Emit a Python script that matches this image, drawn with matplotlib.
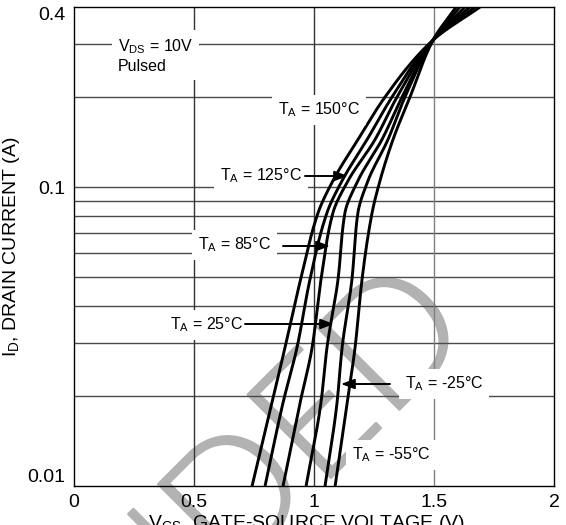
import numpy as np
import matplotlib
matplotlib.use("Agg")
import matplotlib.pyplot as plt
from matplotlib import font_manager
import matplotlib.patheffects as pe

plt.rcParams['font.family'] = ['Liberation Sans', 'DejaVu Sans']
plt.rcParams['mathtext.default'] = 'regular'

# ---- data ----
currents = [0.01, 0.019, 0.029, 0.049, 0.082, 0.105, 0.144, 0.2, 0.31, 0.4]
temps = ["150", "125", "85", "25", "-25", "-55"]
vgs_150 = [0.742, 0.825, 0.879, 0.944, 1.017, 1.079, 1.183, 1.296, 1.496, 1.692]
vgs_125 = [0.796, 0.871, 0.929, 0.983, 1.054, 1.117, 1.221, 1.325, 1.496, 1.671]
vgs_85 = [0.871, 0.942, 0.992, 1.029, 1.079, 1.142, 1.254, 1.346, 1.496, 1.650]
vgs_25 = [0.967, 1.029, 1.054, 1.100, 1.129, 1.183, 1.283, 1.367, 1.496, 1.629]
vgs_m25 = [1.046, 1.096, 1.117, 1.158, 1.183, 1.225, 1.308, 1.379, 1.496, 1.608]
vgs_m55 = [1.088, 1.138, 1.171, 1.200, 1.242, 1.275, 1.329, 1.400, 1.496, 1.592]
series = [vgs_150, vgs_125, vgs_85, vgs_25, vgs_m25, vgs_m55]

x_ticks = [0, 0.5, 1, 1.5, 2]
x_ticklabels = ["0", "0.5", "1", "1.5", "2"]
y_ticks = [0.01, 0.1, 0.4]
y_ticklabels = ["0.01", "0.1", "0.4"]
grid_y = [0.02, 0.03, 0.04, 0.05, 0.06, 0.07, 0.08, 0.09, 0.1, 0.2, 0.3]
grid_x = [0.5, 1.0, 1.5]
watermark = "NOT RECOMMENDED"


def pchip(x, y, xn):
    x = np.asarray(x, float); y = np.asarray(y, float)
    h = np.diff(x); d = np.diff(y) / h
    m = np.zeros_like(y)
    for k in range(1, len(x) - 1):
        if d[k - 1] * d[k] > 0:
            w1 = 2 * h[k] + h[k - 1]; w2 = h[k] + 2 * h[k - 1]
            m[k] = (w1 + w2) / (w1 / d[k - 1] + w2 / d[k])
    m[0] = d[0]; m[-1] = d[-1]
    idx = np.clip(np.searchsorted(x, xn) - 1, 0, len(h) - 1)
    t = (xn - x[idx]) / h[idx]
    h00 = 2 * t**3 - 3 * t**2 + 1; h10 = t**3 - 2 * t**2 + t
    h01 = -2 * t**3 + 3 * t**2; h11 = t**3 - t**2
    return h00 * y[idx] + h10 * h[idx] * m[idx] + h01 * y[idx + 1] + h11 * h[idx] * m[idx + 1]


# pick a light-weight font for the watermark if one is installed
wm_font = font_manager.FontProperties(family='Liberation Sans')
for fam in ['Lato', 'Roboto', 'Open Sans', 'Inter', 'Noto Sans']:
    cands = [f for f in font_manager.fontManager.ttflist
             if f.name == fam and f.style == 'normal' and f.weight in (200, 300, 'light')]
    if cands:
        wm_font = font_manager.FontProperties(fname=cands[0].fname)
        break

fig = plt.figure(figsize=(5.66, 5.25), dpi=100, facecolor='white')
ax = fig.add_axes([74 / 566, 39 / 525, 480 / 566, 479 / 525])
ax.patch.set_visible(False)
ax.set_yscale('log')
ax.set_xlim(0, 2)
ax.set_ylim(0.01, 0.4)

wm_color = '#b2b2b2'
fig.text(476 / 566, 1 - 333 / 525, watermark, fontproperties=wm_font, fontsize=120,
         color=wm_color, rotation=45, rotation_mode='anchor', ha='right',
         va='baseline', zorder=-1,
         path_effects=[pe.Stroke(linewidth=1.6, foreground=wm_color), pe.Normal()])

for gy in grid_y:
    ax.axhline(gy, color='#4a4a4a', lw=1.0, zorder=1)
for gx in grid_x:
    ax.axvline(gx, color='#333333' if gx < 1.4 else '#808080', lw=1.0, zorder=1)

logI = np.log10(currents)
fine = np.linspace(logI[0], logI[-1], 300)
for v in series:
    vv = pchip(logI, v, fine)
    ax.plot(vv, 10 ** fine, color='black', lw=2.1, zorder=3, solid_capstyle='butt')

ax.set_xticks(x_ticks)
ax.set_xticklabels(x_ticklabels, fontsize=14)
ax.set_yticks(y_ticks)
ax.set_yticklabels(y_ticklabels, fontsize=14)
ax.minorticks_off()
ax.tick_params(length=0, pad=6)
ax.tick_params(axis='x', pad=6)
ylabs = ax.get_yticklabels()
ylabs[0].set_va('bottom')
ylabs[-1].set_va('top')
for s in ax.spines.values():
    s.set_color('black'); s.set_linewidth(1.0)

ax.set_ylabel("I$_D$, DRAIN CURRENT (A)", fontsize=14)
ax.yaxis.set_label_coords((22 - 74) / 480, 0.5)
ax.set_xlabel("V$_{GS}$, GATE-SOURCE VOLTAGE (V)", fontsize=14, va='top')
ax.xaxis.set_label_coords((306 - 74) / 480, -(513 - 486) / 479)

box = dict(boxstyle='square,pad=0.35', fc='white', ec='none')
fs = 11.5


def px(xp, yp):
    return ax.transData.inverted().transform(
        fig.transFigure.transform((xp / 566, 1 - yp / 525)))


ax.text(*px(118, 56), "V$_{DS}$ = 10V\nPulsed", fontsize=fs, ha='left', va='center',
        bbox=box, zorder=4, linespacing=1.25)
ax.text(*px(278, 110), "T$_A$ = 150°C", fontsize=fs, ha='left', va='center', bbox=box, zorder=4)
ax.text(*px(220, 176), "T$_A$ = 125°C", fontsize=fs, ha='left', va='center', bbox=box, zorder=4)
ax.text(*px(198, 245), "T$_A$ = 85°C", fontsize=fs, ha='left', va='center', bbox=box, zorder=4)
ax.text(*px(170, 325), "T$_A$ = 25°C", fontsize=fs, ha='left', va='center', bbox=box, zorder=4)
ax.text(*px(405, 384), "T$_A$ = -25°C", fontsize=fs, ha='left', va='center', bbox=box, zorder=4)
ax.text(*px(352, 455), "T$_A$ = -55°C", fontsize=fs, ha='left', va='center', bbox=box, zorder=4)

arrow = dict(arrowstyle='-|>,head_length=0.8,head_width=0.3', color='black', lw=1.4,
             shrinkA=0, shrinkB=0)
for (x0, y0, x1, y1) in [(305, 176, 348, 176), (283, 246, 330, 246),
                         (245, 324, 334, 324), (390, 384, 341, 384)]:
    ax.annotate("", xy=px(x1, y1), xytext=px(x0, y0), arrowprops=arrow, zorder=5)

fig.savefig("out.png", dpi=100, facecolor='white')
